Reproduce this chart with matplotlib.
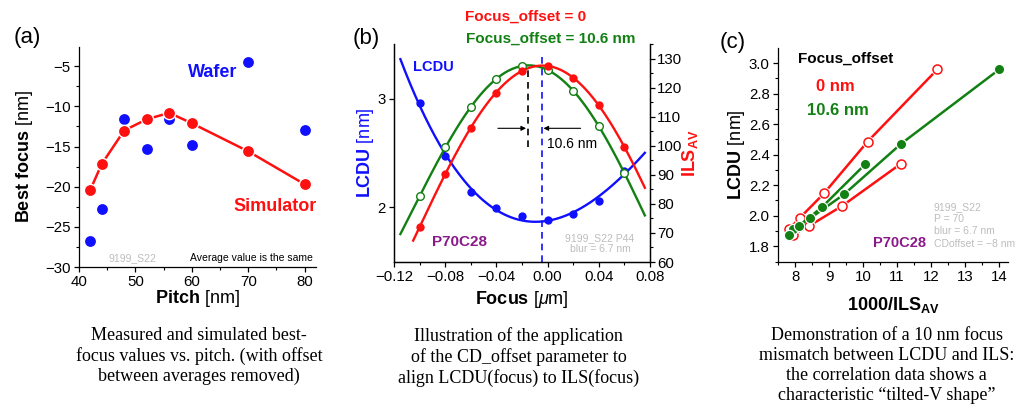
import numpy as np
import matplotlib.pyplot as plt
from matplotlib.ticker import MultipleLocator

plt.rcParams['font.family'] = 'Liberation Sans'
plt.rcParams['mathtext.fontset'] = 'custom'
plt.rcParams['mathtext.rm'] = 'Liberation Sans'
plt.rcParams['mathtext.bf'] = 'Liberation Sans:bold'
plt.rcParams['mathtext.it'] = 'Liberation Sans:italic'
plt.rcParams['axes.linewidth'] = 0.9

BLUE = '#1010ff'
RED = '#ff1010'
GREEN = '#128012'
PURPLE = '#8a1a8a'
GRAY = '#bdbdbd'

### 0. Data
# (a) best focus vs pitch
pitch = [42, 44, 48, 52, 56, 60, 70, 80]
wafer_bf = [-26.8, -22.8, -11.6, -15.3, -11.6, -14.8, -4.5, -12.9]
sim_bf = [-20.4, -17.2, -13.0, -11.6, -10.8, -12.1, -15.6, -19.7]

# (b) LCDU and ILS through focus
focus = [-0.10, -0.08, -0.06, -0.04, -0.02, 0.00, 0.02, 0.04, 0.06]
lcdu = [2.96, 2.47, 2.14, 1.99, 1.92, 1.88, 1.94, 2.06, 2.33]
ils_0 = [72.0, 90.3, 106.2, 118.3, 125.8, 127.6, 123.3, 113.9, 99.6]
ils_106 = [82.6, 99.4, 113.2, 123.0, 127.6, 126.0, 118.9, 106.8, 90.6]
lcdu_fit_span = (-0.115, 0.076)
ils0_fit_span = (-0.105, 0.076)
ils106_fit_span = (-0.115, 0.076)
lcdu_best_focus = -0.0047
focus_offset = 0.0106

# (c) LCDU vs 1000/ILS
inv_ils_0 = [12.18, 10.13, 8.85, 8.15, 7.83, 7.95, 8.42, 9.39, 11.10]
lcdu_0 = [2.958, 2.485, 2.146, 1.988, 1.914, 1.877, 1.934, 2.065, 2.339]
inv_ils_106 = [14.00, 11.11, 9.44, 8.45, 7.93, 7.83, 8.13, 8.80, 10.07]
lcdu_106 = [2.958, 2.470, 2.140, 1.984, 1.910, 1.877, 1.936, 2.058, 2.339]

captions = [
    'Measured and simulated best-\nfocus values vs. pitch. (with offset\nbetween averages removed)',
    'Illustration of the application\nof the CD_offset parameter to\nalign LCDU(focus) to ILS(focus)',
    'Demonstration of a 10 nm focus\nmismatch between LCDU and ILS:\nthe correlation data shows a\ncharacteristic \u201ctilted-V shape\u201d',
]


def style_ticks(ax, pad=2.5):
    ax.tick_params(which='major', direction='out', length=3.5, width=0.9, labelsize=10.8, pad=pad)
    ax.tick_params(which='minor', direction='out', length=2, width=0.8)


def fit_curve(x, y, span, deg=4):
    p = np.polyfit(x, y, deg)
    xx = np.linspace(span[0], span[1], 200)
    return xx, np.polyval(p, xx)


fig = plt.figure(figsize=(10.17, 4.13), dpi=100)

### 1. Panel (a)
ax1 = fig.add_axes([0.0777, 0.3535, 0.233, 0.5327])
ax1.plot(pitch, wafer_bf, 'o', color=BLUE, ms=7.8, mec='none', zorder=2)
ax1.plot(pitch, sim_bf, '-', color=RED, lw=1.8, zorder=3)
ax1.plot(pitch, sim_bf, 'o', color=RED, ms=8.8, mec='white', mew=1.0, zorder=4)
ax1.set_xlim(40, 82)
ax1.set_ylim(-30, -2.6)
ax1.xaxis.set_major_locator(MultipleLocator(10))
ax1.xaxis.set_minor_locator(MultipleLocator(5))
ax1.yaxis.set_major_locator(MultipleLocator(5))
ax1.yaxis.set_minor_locator(MultipleLocator(2.5))
for s in ['top', 'right']:
    ax1.spines[s].set_visible(False)
style_ticks(ax1)
ax1.set_xlabel(r'$\mathbf{Pitch}$ [nm]', fontsize=13)
ax1.set_ylabel(r'$\mathbf{Best\ focus}$ [nm]', fontsize=13)
ax1.xaxis.set_label_coords(0.5, -0.095)
ax1.yaxis.set_label_coords(-0.185, 0.5)
ax1.text(63.7, -5.75, 'Wafer', color=BLUE, fontsize=13, fontweight='bold', ha='center', va='center')
ax1.text(74.7, -22.5, 'Simulator', color=RED, fontsize=13, fontweight='bold', ha='center', va='center')
ax1.text(49.4, -28.9, '9199_S22', color=GRAY, fontsize=7.5, ha='center', va='center')
ax1.text(81.4, -28.9, 'Average value is the same', color='black', fontsize=7.5, ha='right', va='center')

### 2. Panel (b)
ax2 = fig.add_axes([0.3874, 0.3656, 0.2517, 0.5278])
ax2r = ax2.twinx()

xx, yy = fit_curve(focus, lcdu, lcdu_fit_span, deg=3)
ax2.plot(xx, yy, '-', color=BLUE, lw=1.7)
ax2.plot(focus, lcdu, 'o', color=BLUE, ms=6, mec='none')

xx, yy = fit_curve(focus, ils_106, ils106_fit_span)
ax2r.plot(xx, yy, '-', color=GREEN, lw=1.7, zorder=2)
ax2r.plot(focus, ils_106, 'o', color=GREEN, mfc='white', ms=5.5, mew=1.0, zorder=3)
xx, yy = fit_curve(focus, ils_0, ils0_fit_span)
ax2r.plot(xx, yy, '-', color=RED, lw=1.7, zorder=2)
ax2r.plot(focus, ils_0, 'o', color=RED, ms=6, mec='none', zorder=3)

# best-focus markers and the offset between them
ax2r.plot([lcdu_best_focus] * 2, [60, 131.5], '--', color=BLUE, lw=1.2, dashes=(4, 3), zorder=1)
shifted = lcdu_best_focus - focus_offset
ax2r.plot([shifted] * 2, [99.6, 127.3], '--', color='black', lw=1.2, dashes=(4, 3), zorder=1)
arrow = dict(arrowstyle='-|>', color='black', lw=0.8, mutation_scale=7, shrinkA=0, shrinkB=0)
ax2r.annotate('', xy=(shifted - 0.0015, 106), xytext=(shifted - 0.0235, 106), arrowprops=arrow)
ax2r.annotate('', xy=(lcdu_best_focus + 0.0015, 106), xytext=(lcdu_best_focus + 0.0305, 106), arrowprops=arrow)
ax2.text(0.598, 0.541, '10.6 nm', transform=ax2.transAxes, fontsize=10, va='center', ha='left')

ax2.set_xlim(-0.12, 0.08)
ax2.set_ylim(1.494, 3.506)
ax2r.set_ylim(60, 135)
ax2.xaxis.set_major_locator(MultipleLocator(0.04))
ax2.xaxis.set_minor_locator(MultipleLocator(0.02))
ax2.yaxis.set_major_locator(MultipleLocator(1))
ax2r.yaxis.set_major_locator(MultipleLocator(10))
ax2r.yaxis.set_minor_locator(MultipleLocator(5))
ax2.xaxis.set_major_formatter(plt.FuncFormatter(lambda v, p: ('%.2f' % v).replace('-', '\u2212')))
ax2.spines['top'].set_visible(False)
ax2r.spines['top'].set_visible(False)
style_ticks(ax2)
style_ticks(ax2r, pad=1.5)
ax2.set_xlabel(r'$\mathbf{Focus}$ [$\mu$m]', fontsize=13)
ax2.set_ylabel(r'$\mathbf{LCDU}$ [nm]', fontsize=13, color=BLUE)
ax2r.set_ylabel(r'$\mathbf{ILS_{AV}}$', fontsize=13, color=RED)
ax2.xaxis.set_label_coords(0.5, -0.124)
ax2.yaxis.set_label_coords(-0.072, 0.5)
ax2r.yaxis.set_label_coords(1.118, 0.5)

ax2.text(0.074, 0.894, 'LCDU', transform=ax2.transAxes, color=BLUE, fontsize=10.5, fontweight='bold', va='center')
ax2.text(0.148, 0.092, 'P70C28', transform=ax2.transAxes, color=PURPLE, fontsize=11, fontweight='bold', va='center')
ax2.text(0.805, 0.11, '9199_S22 P44', transform=ax2.transAxes, color=GRAY, fontsize=7.5, ha='center', va='center')
ax2.text(0.805, 0.06, 'blur = 6.7 nm', transform=ax2.transAxes, color=GRAY, fontsize=7.5, ha='center', va='center')
ax2.text(0.277, 1.124, 'Focus_offset = 0', transform=ax2.transAxes, color=RED, fontsize=11, fontweight='bold', va='center')
ax2.text(0.281, 1.023, 'Focus_offset = 10.6 nm', transform=ax2.transAxes, color=GREEN, fontsize=11, fontweight='bold', va='center')

### 3. Panel (c)
ax3 = fig.add_axes([0.765, 0.3656, 0.2262, 0.518])
ax3.plot(inv_ils_0, lcdu_0, '-', color=RED, lw=1.8, zorder=2)
ax3.plot(inv_ils_0, lcdu_0, 'o', color='white', ms=9, mec='none', zorder=2.1)
ax3.plot(inv_ils_0, lcdu_0, 'o', color=RED, mfc='white', ms=6.5, mew=1.1, zorder=2.2)
ax3.plot(inv_ils_106, lcdu_106, '-', color=GREEN, lw=1.8, zorder=3)
ax3.plot(inv_ils_106, lcdu_106, 'o', color=GREEN, ms=7.4, mec='white', mew=0.9, zorder=3.1)
ax3.set_xlim(7.5, 14.26)
ax3.set_ylim(1.697, 3.098)
ax3.xaxis.set_major_locator(MultipleLocator(1))
ax3.xaxis.set_minor_locator(MultipleLocator(0.5))
ax3.yaxis.set_major_locator(MultipleLocator(0.2))
ax3.yaxis.set_minor_locator(MultipleLocator(0.1))
ax3.yaxis.set_major_formatter(plt.FormatStrFormatter('%.1f'))
for s in ['top', 'right']:
    ax3.spines[s].set_visible(False)
style_ticks(ax3)
ax3.set_xlabel(r'$\mathbf{1000/ILS_{AV}}$', fontsize=13)
ax3.set_ylabel(r'$\mathbf{LCDU}$ [nm]', fontsize=13)
ax3.xaxis.set_label_coords(0.5, -0.154)
ax3.yaxis.set_label_coords(-0.135, 0.5)
ax3.text(0.087, 0.949, 'Focus_offset', transform=ax3.transAxes, fontsize=11, fontweight='bold', va='center')
ax3.text(0.165, 0.822, '0 nm', transform=ax3.transAxes, color=RED, fontsize=12, fontweight='bold', va='center')
ax3.text(0.126, 0.710, '10.6 nm', transform=ax3.transAxes, color=GREEN, fontsize=12, fontweight='bold', va='center')
ax3.text(0.413, 0.089, 'P70C28', transform=ax3.transAxes, color=PURPLE, fontsize=10.5, fontweight='bold', va='center')
for i, s in enumerate(['9199_S22', 'P = 70', 'blur = 6.7 nm', 'CDoffset = \u22128 nm']):
    ax3.text(0.678, 0.257 - i * 0.057, s, transform=ax3.transAxes, color=GRAY, fontsize=7.5, va='center')

### 4. Panel letters and captions
for x, y, lab in [(0.0265, 0.908, '(a)'), (0.36, 0.906, '(b)'), (0.72, 0.898, '(c)')]:
    fig.text(x, y, lab, fontsize=16, ha='center', va='center')
for x, cap in zip([0.1957, 0.510, 0.872], captions):
    fig.text(x, 0.209, cap, fontsize=13, family='Liberation Serif', ha='center', va='top', linespacing=1.24)

fig.savefig('out.png', dpi=100)
